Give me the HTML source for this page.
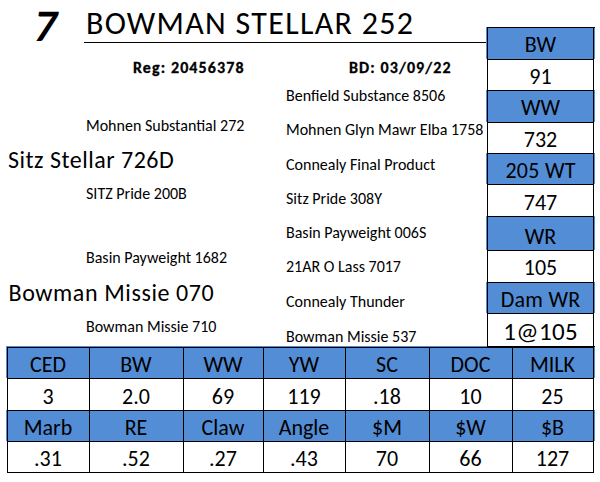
<!DOCTYPE html>
<html><head><meta charset="utf-8"><style>
html,body{margin:0;padding:0;background:#fff;}
body{width:600px;height:482px;position:relative;overflow:hidden;font-family:"Carlito", "Liberation Sans", sans-serif;color:#000;}
.t{position:absolute;white-space:nowrap;line-height:normal;}
.r{position:absolute;}
</style></head><body>
<div class="t" style="top:-1.54px;font-size:45px;transform:skewX(-2.5deg);transform-origin:0 42.8px;font-weight:bold;font-style:italic;left:33.1px;">7</div>
<div class="t" style="top:3.74px;font-size:32px;letter-spacing:1.3px;left:86px;">BOWMAN STELLAR 252</div>
<div class="r" style="left:84px;top:42px;width:403px;height:1px;background:#000"></div>
<div class="t" style="top:57.97px;font-size:16px;-webkit-text-stroke:0.3px #000;font-weight:bold;letter-spacing:1.1px;left:133px;">Reg: 20456378</div>
<div class="t" style="top:57.97px;font-size:16px;-webkit-text-stroke:0.3px #000;font-weight:bold;letter-spacing:1.1px;left:349px;">BD: 03/09/22</div>
<div class="t" style="top:86.27px;font-size:16px;left:286px;">Benfield Substance 8506</div>
<div class="t" style="top:120.27px;font-size:16px;left:286px;">Mohnen Glyn Mawr Elba 1758</div>
<div class="t" style="top:154.77px;font-size:16px;left:286px;">Connealy Final Product</div>
<div class="t" style="top:188.77px;font-size:16px;left:286px;">Sitz Pride 308Y</div>
<div class="t" style="top:222.97px;font-size:16px;left:286px;">Basin Payweight 006S</div>
<div class="t" style="top:257.27px;font-size:16px;left:286px;">21AR O Lass 7017</div>
<div class="t" style="top:292.02px;font-size:16px;left:286px;">Connealy Thunder</div>
<div class="t" style="top:327.02px;font-size:16px;left:286px;">Bowman Missie 537</div>
<div class="t" style="top:115.77px;font-size:16px;left:86px;">Mohnen Substantial 272</div>
<div class="t" style="top:183.77px;font-size:16px;left:86px;">SITZ Pride 200B</div>
<div class="t" style="top:247.97px;font-size:16px;left:86px;">Basin Payweight 1682</div>
<div class="t" style="top:316.77px;font-size:16px;left:86px;">Bowman Missie 710</div>
<div class="t" style="top:144.75px;font-size:24px;letter-spacing:0.5px;left:8px;">Sitz Stellar 726D</div>
<div class="t" style="top:277.95px;font-size:24px;letter-spacing:0.6px;left:8.5px;">Bowman Missie 070</div>
<div class="r" style="left:486px;top:27px;width:109px;height:32px;background:#538DD5"></div>
<div class="r" style="left:486px;top:90px;width:109px;height:32px;background:#538DD5"></div>
<div class="r" style="left:486px;top:153px;width:109px;height:31px;background:#538DD5"></div>
<div class="r" style="left:486px;top:216px;width:109px;height:34px;background:#538DD5"></div>
<div class="r" style="left:486px;top:282px;width:109px;height:31px;background:#538DD5"></div>
<div class="r" style="left:6px;top:346px;width:589px;height:32px;background:#538DD5"></div>
<div class="r" style="left:6px;top:410px;width:589px;height:31px;background:#538DD5"></div>
<div class="r" style="left:487px;top:27px;width:107px;height:1px;background:#000"></div>
<div class="r" style="left:487px;top:59px;width:107px;height:1px;background:#000"></div>
<div class="r" style="left:487px;top:90px;width:107px;height:1px;background:#000"></div>
<div class="r" style="left:487px;top:122px;width:107px;height:1px;background:#000"></div>
<div class="r" style="left:487px;top:153px;width:107px;height:1px;background:#000"></div>
<div class="r" style="left:487px;top:184px;width:107px;height:1px;background:#000"></div>
<div class="r" style="left:487px;top:216px;width:107px;height:1px;background:#000"></div>
<div class="r" style="left:487px;top:250px;width:107px;height:1px;background:#000"></div>
<div class="r" style="left:487px;top:282px;width:107px;height:1px;background:#000"></div>
<div class="r" style="left:487px;top:313px;width:107px;height:1px;background:#000"></div>
<div class="r" style="left:487px;top:346px;width:107px;height:1px;background:#000"></div>
<div class="r" style="left:593px;top:27px;width:2px;height:1px;background:#000"></div>
<div class="r" style="left:487px;top:346px;width:108px;height:1px;background:#000"></div>
<div class="r" style="left:487px;top:27px;width:1px;height:320px;background:#000"></div>
<div class="r" style="left:593px;top:27px;width:1px;height:320px;background:#000"></div>
<div class="r" style="left:7px;top:347px;width:587px;height:1px;background:#000"></div>
<div class="r" style="left:7px;top:378px;width:587px;height:1px;background:#000"></div>
<div class="r" style="left:7px;top:410px;width:587px;height:1px;background:#000"></div>
<div class="r" style="left:7px;top:441px;width:587px;height:1px;background:#000"></div>
<div class="r" style="left:7px;top:472px;width:587px;height:1px;background:#000"></div>
<div class="r" style="left:7px;top:347px;width:1px;height:126px;background:#000"></div>
<div class="r" style="left:89px;top:347px;width:1px;height:126px;background:#000"></div>
<div class="r" style="left:183px;top:347px;width:1px;height:126px;background:#000"></div>
<div class="r" style="left:263px;top:347px;width:1px;height:126px;background:#000"></div>
<div class="r" style="left:345px;top:347px;width:1px;height:126px;background:#000"></div>
<div class="r" style="left:429px;top:347px;width:1px;height:126px;background:#000"></div>
<div class="r" style="left:512px;top:347px;width:1px;height:126px;background:#000"></div>
<div class="r" style="left:593px;top:347px;width:1px;height:126px;background:#000"></div>
<div class="t" style="top:30.86px;font-size:22px;left:487.00px;width:107px;text-align:center;">BW</div>
<div class="t" style="top:62.86px;font-size:22px;left:487.00px;width:107px;text-align:center;">91</div>
<div class="t" style="top:93.76px;font-size:22px;left:487.00px;width:107px;text-align:center;">WW</div>
<div class="t" style="top:125.76px;font-size:22px;left:487.00px;width:107px;text-align:center;">732</div>
<div class="t" style="top:156.76px;font-size:22px;letter-spacing:0.3px;left:487.15px;width:107px;text-align:center;">205 WT</div>
<div class="t" style="top:188.76px;font-size:22px;left:487.00px;width:107px;text-align:center;">747</div>
<div class="t" style="top:222.86px;font-size:22px;left:487.00px;width:107px;text-align:center;">WR</div>
<div class="t" style="top:253.66px;font-size:22px;left:487.00px;width:107px;text-align:center;">105</div>
<div class="t" style="top:285.96px;font-size:22px;letter-spacing:0.3px;left:487.15px;width:107px;text-align:center;">Dam WR</div>
<div class="t" style="top:315.80px;font-size:25px;letter-spacing:0.4px;left:487.20px;width:107px;text-align:center;">1@105</div>
<div class="t" style="top:350.66px;font-size:22px;left:7.00px;width:82px;text-align:center;">CED</div>
<div class="t" style="top:350.66px;font-size:22px;left:89.00px;width:94px;text-align:center;">BW</div>
<div class="t" style="top:350.66px;font-size:22px;left:183.00px;width:80px;text-align:center;">WW</div>
<div class="t" style="top:350.66px;font-size:22px;left:263.00px;width:82px;text-align:center;">YW</div>
<div class="t" style="top:350.66px;font-size:22px;left:345.00px;width:84px;text-align:center;">SC</div>
<div class="t" style="top:350.66px;font-size:22px;left:429.00px;width:83px;text-align:center;">DOC</div>
<div class="t" style="top:350.66px;font-size:22px;left:512.00px;width:81px;text-align:center;">MILK</div>
<div class="t" style="top:382.66px;font-size:22px;left:7.00px;width:82px;text-align:center;">3</div>
<div class="t" style="top:382.66px;font-size:22px;left:89.00px;width:94px;text-align:center;">2.0</div>
<div class="t" style="top:382.66px;font-size:22px;left:183.00px;width:80px;text-align:center;">69</div>
<div class="t" style="top:382.66px;font-size:22px;left:263.00px;width:82px;text-align:center;">119</div>
<div class="t" style="top:382.66px;font-size:22px;left:345.00px;width:84px;text-align:center;">.18</div>
<div class="t" style="top:382.66px;font-size:22px;left:429.00px;width:83px;text-align:center;">10</div>
<div class="t" style="top:382.66px;font-size:22px;left:512.00px;width:81px;text-align:center;">25</div>
<div class="t" style="top:413.66px;font-size:22px;left:7.00px;width:82px;text-align:center;">Marb</div>
<div class="t" style="top:413.66px;font-size:22px;left:89.00px;width:94px;text-align:center;">RE</div>
<div class="t" style="top:413.66px;font-size:22px;left:183.00px;width:80px;text-align:center;">Claw</div>
<div class="t" style="top:413.66px;font-size:22px;left:263.00px;width:82px;text-align:center;">Angle</div>
<div class="t" style="top:413.66px;font-size:22px;left:345.00px;width:84px;text-align:center;">$M</div>
<div class="t" style="top:413.66px;font-size:22px;left:429.00px;width:83px;text-align:center;">$W</div>
<div class="t" style="top:413.66px;font-size:22px;left:512.00px;width:81px;text-align:center;">$B</div>
<div class="t" style="top:444.56px;font-size:22px;left:7.00px;width:82px;text-align:center;">.31</div>
<div class="t" style="top:444.56px;font-size:22px;left:89.00px;width:94px;text-align:center;">.52</div>
<div class="t" style="top:444.56px;font-size:22px;left:183.00px;width:80px;text-align:center;">.27</div>
<div class="t" style="top:444.56px;font-size:22px;left:263.00px;width:82px;text-align:center;">.43</div>
<div class="t" style="top:444.56px;font-size:22px;left:345.00px;width:84px;text-align:center;">70</div>
<div class="t" style="top:444.56px;font-size:22px;left:429.00px;width:83px;text-align:center;">66</div>
<div class="t" style="top:444.56px;font-size:22px;left:512.00px;width:81px;text-align:center;">127</div>
</body></html>
